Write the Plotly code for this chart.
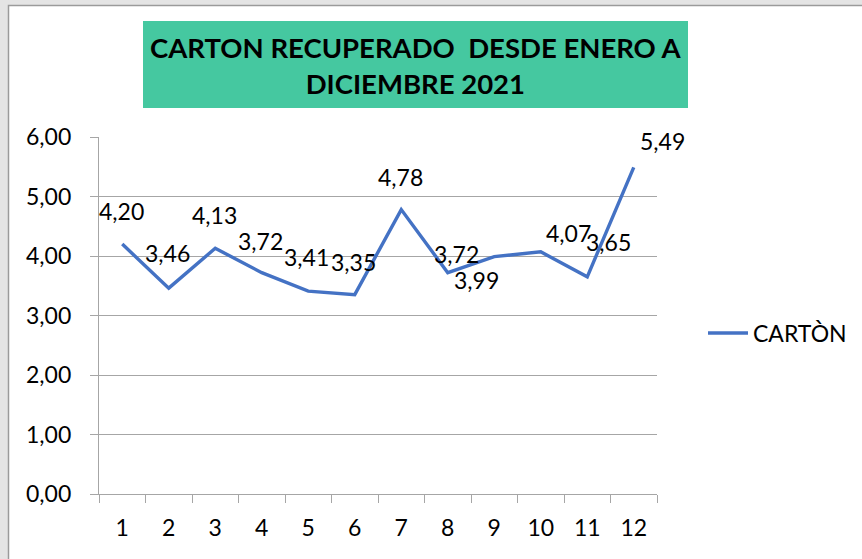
import plotly.graph_objects as go

# Monthly recovered cardboard, January to December 2021
months = ["1", "2", "3", "4", "5", "6", "7", "8", "9", "10", "11", "12"]
carton = [4.20, 3.46, 4.13, 3.72, 3.41, 3.35, 4.78, 3.72, 3.99, 4.07, 3.65, 5.49]
series_name = "CARTÒN"
title_lines = ["CARTON RECUPERADO  DESDE ENERO A", "DICIEMBRE 2021"]
y_ticks = [0, 1, 2, 3, 4, 5, 6]

# label nudges in pixels (dx, dy), keeps crowded labels readable
label_shift = [(-1, 33), (-1, 35), (-1, 33), (-1, 32), (-2, 34), (-1, 33),
               (-1, 33), (9, 19), (-18, -23), (28, 19), (21, 35), (29, 26)]

W, H = 862, 559
L, R, T, B = 99, 657, 137, 494          # plot area in pixels
pw, ph = R - L, B - T


def px_x(x):
    return (x - L) / pw


def px_y(y):
    return (B - y) / ph


FONT = "Lato"
LINE_BLUE = "#4472C4"
GRID = "#a6a6a6"
FS = 23

fig = go.Figure()
fig.add_trace(go.Scatter(
    x=months, y=carton, mode="lines", name=series_name,
    line=dict(color=LINE_BLUE, width=3.4),
    hoverinfo="x+y",
))

annotations = []
for i, (v, (dx, dy)) in enumerate(zip(carton, label_shift)):
    # category axes take the position index of the month
    annotations.append(dict(
        x=i, y=v, xref="x", yref="y", text=f"{v:.2f}".replace(".", ","),
        showarrow=False, xshift=dx, yshift=dy,
        font=dict(family=FONT, size=FS, color="#000000"),
    ))

# chart title inside the green banner
annotations.append(dict(
    x=px_x(415.5), y=px_y(65), xref="paper", yref="paper",
    text="<b>" + "<br>".join(title_lines) + "</b>",
    showarrow=False, xanchor="center", yanchor="middle",
    font=dict(family=FONT, size=27.5, color="#000000"),
    align="center",
))

shapes = [
    # white chart sheet over the grey frame
    dict(type="rect", xref="paper", yref="paper", layer="below",
         x0=px_x(8.5), x1=px_x(W + 5), y0=px_y(H + 5), y1=px_y(5.5),
         fillcolor="#ffffff", line=dict(color="#9a9a9a", width=1.5)),
    # green title banner
    dict(type="rect", xref="paper", yref="paper", layer="below",
         x0=px_x(143), x1=px_x(688), y0=px_y(108), y1=px_y(21),
         fillcolor="#45C8A0", line=dict(width=0)),
]

fig.update_layout(
    width=W, height=H,
    margin=dict(l=L, r=W - R, t=T, b=H - B, pad=0, autoexpand=False),
    paper_bgcolor="#e4e4e4",
    plot_bgcolor="rgba(0,0,0,0)",
    separators=",.",
    font=dict(family=FONT, size=FS, color="#000000"),
    showlegend=True,
    legend=dict(x=px_x(703), y=px_y(333), xanchor="left", yanchor="middle",
                bgcolor="rgba(0,0,0,0)", font=dict(family=FONT, size=FS),
                itemwidth=40),
    annotations=annotations,
    shapes=shapes,
)

fig.update_xaxes(
    type="category", range=[-0.5, 11.5],
    showgrid=False, showline=True, linecolor=GRID, linewidth=1.3,
    ticks="outside", tickson="boundaries", ticklen=8, tickcolor=GRID, tickwidth=1.3,
    ticklabelstandoff=13,
    tickfont=dict(family=FONT, size=FS, color="#000000"),
)
fig.update_yaxes(
    range=[0, 6], tickvals=y_ticks, tickformat=".2f",
    showgrid=True, gridcolor=GRID, gridwidth=1.3,
    showline=True, linecolor=GRID, linewidth=1.3,
    ticks="outside", ticklen=8, tickcolor=GRID, tickwidth=1.3,
    ticklabelstandoff=14, zeroline=False,
    tickfont=dict(family=FONT, size=FS, color="#000000"),
)

fig.write_html("out.html")
